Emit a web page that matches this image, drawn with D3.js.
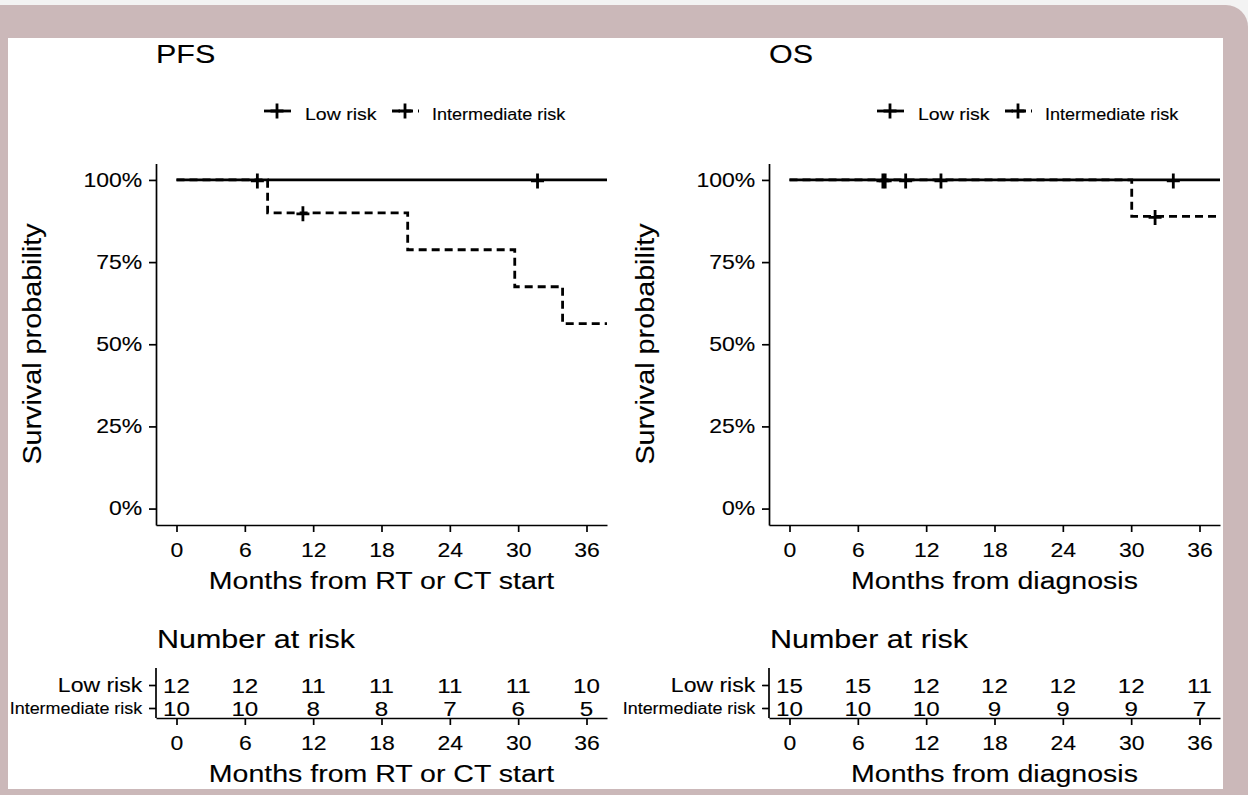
<!DOCTYPE html>
<html>
<head>
<meta charset="utf-8">
<script src="https://cdn.jsdelivr.net/npm/d3@7"></script>
<style>
html, body { margin: 0; padding: 0; background: #f3f3f3; }
svg { display: block; font-family: "Liberation Sans", Arial, sans-serif; }
text { stroke: #000; stroke-width: 0.12px; }
</style>
</head>
<body>
<svg id="chart" width="1248" height="795"></svg>
<script>
// axis ticks
const monthTicks = [0, 6, 12, 18, 24, 30, 36]
const pctTicks = [0, 0.25, 0.5, 0.75, 1]
const groups = ["Low risk", "Intermediate risk"]

// PFS curves (step points: time, survival)
const pfsLowTimes = [0, 37.8]
const pfsLowSurv = [1, 1]
const pfsLowCensor = [7.1, 31.7]
const pfsIntTimes = [0, 8.0, 20.3, 29.7, 33.9, 37.8]
const pfsIntSurv = [1, 0.9, 0.7875, 0.675, 0.5625, 0.5625]
const pfsIntCensor = [11.1]
const pfsRiskLow = [12, 12, 11, 11, 11, 11, 10]
const pfsRiskInt = [10, 10, 8, 8, 7, 6, 5]

// OS curves
const osLowTimes = [0, 37.8]
const osLowSurv = [1, 1]
const osLowCensor = [8.2, 8.4, 10.2, 33.7]
const osIntTimes = [0, 30.05, 37.8]
const osIntSurv = [1, 0.889, 0.889]
const osIntCensor = [13.3, 32.1]
const osRiskLow = [15, 15, 12, 12, 12, 12, 11]
const osRiskInt = [10, 10, 10, 9, 9, 9, 7]

const SX = 1.15   // text is drawn a bit wider than the font
const ink = "#000"
const lw = 2.8

const svg = d3.select("#chart")

// pink frame + white sheet
svg.append("rect").attr("x", -40).attr("y", 5).attr("width", 1288).attr("height", 840)
    .attr("rx", 22).attr("fill", "#cbb8b9")
svg.append("rect").attr("x", 8).attr("y", 38).attr("width", 1215).attr("height", 751)
    .attr("fill", "#fff")

function txt (g, x, y, s, size, anchor = "start", rot = 0) {
    return g.append("text")
        .attr("transform", `translate(${x},${y})` + (rot ? ` rotate(${rot})` : "") + ` scale(${SX},1)`)
        .attr("text-anchor", anchor)
        .attr("fill", ink)
        .style("font-size", size + "px")
        .text(s)
}

function survAt (t, times, surv) {
    let v = surv[0]
    times.forEach((tt, i) => { if (tt <= t) v = surv[i] })
    return v
}

const panels = [
    {
        ox: 0, title: "PFS", xTitle: "Months from RT or CT start",
        curves: [
            { times: pfsIntTimes, surv: pfsIntSurv, censor: pfsIntCensor, dash: "8,5" },
            { times: pfsLowTimes, surv: pfsLowSurv, censor: pfsLowCensor, dash: null },
        ],
        risk: [pfsRiskLow, pfsRiskInt],
    },
    {
        ox: 613, title: "OS", xTitle: "Months from diagnosis",
        curves: [
            { times: osIntTimes, surv: osIntSurv, censor: osIntCensor, dash: "8,5" },
            { times: osLowTimes, surv: osLowSurv, censor: osLowCensor, dash: null },
        ],
        risk: [osRiskLow, osRiskInt],
    },
]

const plusPath = "M-6.5,0H6.5M0,-7.5V7.5"

function styleAxis (g) {
    g.select(".domain").attr("stroke", ink).attr("stroke-width", 1.7)
    g.selectAll(".tick line").attr("stroke", ink).attr("stroke-width", 1.7)
    g.selectAll(".tick text").attr("fill", ink).style("font-size", "20px")
    g.attr("font-family", null).attr("font-size", null)
}

panels.forEach(p => {
    const g = svg.append("g").attr("transform", `translate(${p.ox},0)`)

    const x = d3.scaleLinear().domain([-1.8, 37.8]).range([156, 607])
    const y = d3.scaleLinear().domain([-0.05, 1.05]).range([525, 163.5])

    // title
    txt(g, 156, 63, p.title, 26.5)

    // legend
    const lg = g.append("g")
    const keys = [
        { x0: 264, tx: 305, size: 17, dash: null },
        { x0: 392, tx: 432, size: 15.7, dash: "8,5" },
    ]
    keys.forEach((k, i) => {
        lg.append("line").attr("x1", k.x0).attr("x2", k.x0 + 27).attr("y1", 111).attr("y2", 111)
            .attr("stroke", ink).attr("stroke-width", lw).attr("stroke-dasharray", k.dash)
        lg.append("path").attr("d", plusPath).attr("transform", `translate(${k.x0 + 13},111)`)
            .attr("stroke", ink).attr("stroke-width", lw).attr("fill", "none")
        txt(lg, k.tx, 119.5, groups[i], k.size)
    })

    // axes
    g.append("g").attr("transform", "translate(156,0)")
        .call(d3.axisLeft(y).tickValues(pctTicks).tickFormat(d3.format(".0%"))
            .tickSize(7).tickSizeOuter(0).tickPadding(5))
        .call(styleAxis)
        .selectAll(".tick text").attr("transform", `scale(${SX},1)`)

    g.append("g").attr("transform", "translate(0,525)")
        .call(d3.axisBottom(x).tickValues(monthTicks).tickSize(7).tickSizeOuter(0).tickPadding(10.5))
        .call(styleAxis)
        .selectAll(".tick text").attr("transform", `scale(${SX},1)`)

    txt(g, 41, 344, "Survival probability", 25, "middle", -90)
    txt(g, 381.5, 589, p.xTitle, 24.8, "middle")

    // curves
    const line = d3.line().x(d => x(d[0])).y(d => y(d[1])).curve(d3.curveStepAfter)
    p.curves.forEach(c => {
        g.append("path")
            .datum(c.times.map((t, i) => [t, c.surv[i]]))
            .attr("d", line)
            .attr("fill", "none").attr("stroke", ink).attr("stroke-width", lw)
            .attr("stroke-dasharray", c.dash)
        g.selectAll(null).data(c.censor).enter().append("path")
            .attr("d", plusPath)
            .attr("transform", t => `translate(${x(t)},${y(survAt(t, c.times, c.surv)) + 1})`)
            .attr("stroke", ink).attr("stroke-width", lw).attr("fill", "none")
    })

    // risk table
    txt(g, 157, 648, "Number at risk", 26.5)
    const ry = d3.scalePoint().domain(groups).range([685, 708])
    const ya = g.append("g").attr("transform", "translate(156,0)")
        .call(d3.axisLeft(ry).tickSize(7).tickSizeOuter(0).tickPadding(5))
        .call(styleAxis)
    ya.select(".domain").attr("d", "M0,668V718")
    ya.selectAll(".tick text")
        .attr("transform", `scale(${SX},1)`)
        .style("font-size", d => d === groups[0] ? "20px" : "15.6px")

    p.risk.forEach((row, gi) => {
        g.append("g").selectAll("text").data(row).enter().append("text")
            .attr("transform", (d, i) => `translate(${x(monthTicks[i])},${ry(groups[gi])}) scale(${SX},1)`)
            .attr("text-anchor", "middle").attr("dy", "0.36em")
            .attr("fill", ink).style("font-size", "21px")
            .text(d => d)
    })

    g.append("g").attr("transform", "translate(0,718)")
        .call(d3.axisBottom(x).tickValues(monthTicks).tickSize(7).tickSizeOuter(0).tickPadding(10.5))
        .call(styleAxis)
        .selectAll(".tick text").attr("transform", `scale(${SX},1)`)

    txt(g, 381.5, 782, p.xTitle, 24.8, "middle")
})
</script>
</body>
</html>
